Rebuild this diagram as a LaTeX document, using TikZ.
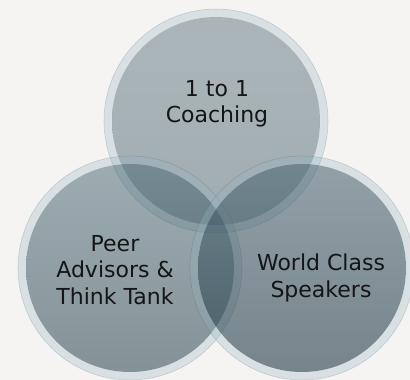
\documentclass[tikz,border=0pt]{standalone}
\usepackage{fontspec}
\setmainfont{DejaVu Sans}
\definecolor{bgc}{HTML}{F5F4F2}
\definecolor{slate}{RGB}{40,70,80}
\definecolor{ringc}{RGB}{150,180,195}
\definecolor{txt}{HTML}{151515}
\definecolor{topA}{RGB}{50,79,93}
\definecolor{topB}{RGB}{24,56,72}
\definecolor{leftA}{RGB}{70,102,114}
\definecolor{leftB}{RGB}{20,50,62}
\definecolor{rightA}{RGB}{80,106,117}
\definecolor{rightB}{RGB}{33,59,72}
\begin{document}
\begin{tikzpicture}[x=1pt,y=-1pt,
  ringpart/.style={fill=ringc,fill opacity=0.3,even odd rule},
  rimline/.style={draw=slate,draw opacity=0.18,line width=0.6pt},
  label/.style={text=txt,align=center,font=\fontsize{22}{26.5}\selectfont}]
\useasboundingbox (0,0) rectangle (410,380);
\fill[bgc] (0,0) rectangle (410,380);
% top circle
\fill[ringpart] (216,121) circle[radius=112] (216,121) circle[radius=104];
\draw[rimline] (216,121) circle[radius=112];
\shade[top color=topA,bottom color=topB,fill opacity=0.375] (216,121) circle[radius=104];
% left circle
\fill[ringpart] (130,268) circle[radius=112] (130,268) circle[radius=104];
\draw[rimline] (130,268) circle[radius=112];
\shade[top color=leftA,bottom color=leftB,fill opacity=0.5] (130,268) circle[radius=104];
% right circle
\fill[ringpart] (302,268) circle[radius=112] (302,268) circle[radius=104];
\draw[rimline] (302,268) circle[radius=112];
\shade[top color=rightA,bottom color=rightB,fill opacity=0.6] (302,268) circle[radius=104];
\node[label] (coach) at (217,104) {1 to 1\\Coaching};
\node[label] (peer) at (115,270) {Peer\\Advisors \&\\Think Tank};
\node[label] (world) at (321,278) {World Class\\Speakers};
\end{tikzpicture}
\end{document}
